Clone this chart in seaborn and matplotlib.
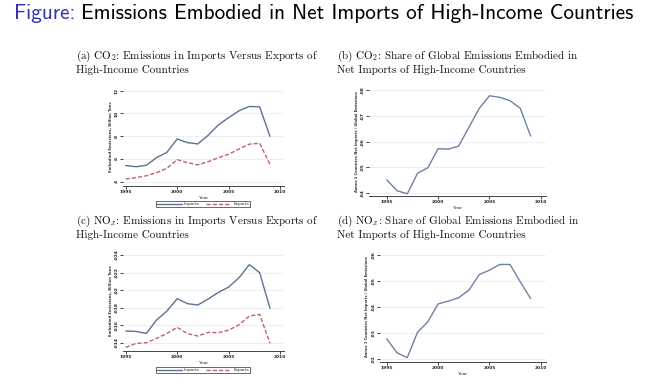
import matplotlib
matplotlib.use('Agg')
import matplotlib.pyplot as plt
import seaborn as sns
import pandas as pd

W, H = 646, 381

years = list(range(1995, 2010))

# (a) CO2 embodied emissions, billion tons
co2_imports = [5.42, 5.32, 5.44, 6.12, 6.58, 7.76, 7.44, 7.32, 8.08, 9.0, 9.64, 10.24, 10.62, 10.58, 7.98]
co2_exports = [4.24, 4.36, 4.52, 4.8, 5.18, 5.94, 5.68, 5.48, 5.76, 6.12, 6.42, 6.88, 7.3, 7.38, 5.52]
co2_ticks = [4, 6, 8, 10, 12]

# (b) CO2 share of global emissions in net imports
co2_share = [.0452, .0410, .0398, .0478, .0499, .0573, .0571, .0583, .0656, .0729, .0778, .0772, .0759, .0729, .0622]
co2_share_ticks = [.04, .05, .06, .07, .08]

# (c) NOx embodied emissions, billion tons
nox_imports = [.01533, .01529, .01506, .01659, .01761, .01902, .01845, .01830, .01898, .01974,
               .02035, .02141, .0229, .02198, .01792]
nox_exports = [.01347, .01392, .0140, .01449, .01506, .01575, .01503, .01476, .01518, .01514,
               .01544, .01605, .01704, .01723, .01392]
nox_ticks = [.014, .016, .018, .02, .022, .024]

# (d) NOx share of global emissions in net imports
nox_share = [.0278, .0224, .0205, .0303, .0343, .0412, .0423, .0436, .0465, .0525,
             .0542, .0564, .0564, .0497, .0433]
nox_share_ticks = [.02, .03, .04, .05, .06]

x_ticks = [1995, 2000, 2005, 2010]

captions = {
    'a': [r"(a) $\mathrm{CO}_2$: Emissions in Imports Versus Exports of", "High-Income Countries"],
    'b': [r"(b) $\mathrm{CO}_2$: Share of Global Emissions Embodied in", "Net Imports of High-Income Countries"],
    'c': [r"(c) $\mathrm{NO}_x$: Emissions in Imports Versus Exports of", "High-Income Countries"],
    'd': [r"(d) $\mathrm{NO}_x$: Share of Global Emissions Embodied in", "Net Imports of High-Income Countries"],
}

IMP_COLOR = '#5d7196'
EXP_COLOR = '#c0606e'
SHARE_COLOR = '#7081a6'

sns.set_style('white')
plt.rcParams['mathtext.fontset'] = 'cm'
plt.rcParams['font.family'] = ['DejaVu Sans']

fig = plt.figure(figsize=(W / 100, H / 100), dpi=100)
fig.patch.set_facecolor('white')


def px_axes(left, top, right, bottom):
    return fig.add_axes([left / W, 1 - bottom / H, (right - left) / W, (bottom - top) / H])


def style_axes(ax, yticks, ylabel, ylim, xlim, ylabel_size):
    ax.set_xlim(*xlim)
    ax.set_ylim(*ylim)
    ax.set_xticks(x_ticks)
    ax.set_yticks(yticks)
    ax.set_yticklabels([f"{t:g}".lstrip('0') if t < 1 else f"{t:g}" for t in yticks],
                       rotation=90, va='center')
    ax.set_xlabel('Year', fontsize=3.2, labelpad=1)
    ax.set_ylabel(ylabel, fontsize=ylabel_size, labelpad=1.5, fontweight='bold', color='#333333')
    ax.tick_params(axis='both', labelsize=3.2, length=2.2, width=0.6, pad=1, colors='#222222')
    ax.tick_params(axis='y', left=True)
    ax.tick_params(axis='x', bottom=True)
    for lab in ax.get_xticklabels() + ax.get_yticklabels():
        lab.set_fontweight('bold')
    for side in ['left', 'right', 'top']:
        ax.spines[side].set_visible(False)
    ax.spines['bottom'].set_linewidth(0.7)
    ax.spines['bottom'].set_color('#444444')
    ax.grid(axis='y', color='#e8ecef', linewidth=0.6)
    ax.set_axisbelow(True)


def pair_panel(ax, imports, exports, legend_center):
    df = pd.DataFrame({'Year': years * 2,
                       'Value': imports + exports,
                       'Series': ['Imports'] * len(years) + ['Exports'] * len(years)})
    sns.lineplot(data=df, x='Year', y='Value', hue='Series', style='Series',
                 palette={'Imports': IMP_COLOR, 'Exports': EXP_COLOR},
                 dashes={'Imports': '', 'Exports': (3, 1.5)},
                 linewidth=1.0, ax=ax, legend=True)
    leg = ax.legend(loc='center', bbox_to_anchor=(legend_center[0] / W, 1 - legend_center[1] / H),
                    bbox_transform=fig.transFigure, ncol=2, fontsize=3.0, frameon=True,
                    fancybox=False, handlelength=6, columnspacing=1.5, borderpad=0.3,
                    handletextpad=0.5)
    leg.get_frame().set_edgecolor('#222222')
    leg.get_frame().set_linewidth(0.6)


# (a)
ax_a = px_axes(123.3, 88, 284, 185.7)
pair_panel(ax_a, co2_imports, co2_exports, (203, 204))
style_axes(ax_a, co2_ticks, 'Embodied Emissions, Billion Tons', (3.65, 12.24), (1994.77, 2010.36), 2.7)

# (b)
ax_b = px_axes(369.3, 87, 546, 196)
sns.lineplot(x=years, y=co2_share, color=SHARE_COLOR, linewidth=1.0, ax=ax_b)
style_axes(ax_b, co2_share_ticks, 'Annex 1 Countries Net Imports / Global Emissions',
           (.03895, .0812), (1993.3, 2010.5), 2.6)

# (c)
ax_c = px_axes(123.3, 250, 284, 350.7)
pair_panel(ax_c, nox_imports, nox_exports, (203, 370))
style_axes(ax_c, nox_ticks, 'Embodied Emissions, Billion Tons', (.01309, .02457), (1994.77, 2010.36), 2.7)

# (d)
ax_d = px_axes(380, 252, 546, 361.7)
sns.lineplot(x=years, y=nox_share, color=SHARE_COLOR, linewidth=1.0, ax=ax_d)
style_axes(ax_d, nox_share_ticks, 'Annex 1 Countries Net Imports / Global Emissions',
           (.01896, .0612), (1994.35, 2010.5), 2.6)

# panel captions
cap_pos = {'a': (75.7, 56.7), 'b': (337.3, 56.7), 'c': (75.7, 221.7), 'd': (337.3, 221.7)}
for key, (x0, y0) in cap_pos.items():
    for i, line in enumerate(captions[key]):
        fig.text(x0 / W, 1 - (y0 + i * 13.3) / H, line, fontfamily='cmr10', fontsize=8.0,
                 ha='left', va='center', color='#111111')

# slide title
t1 = fig.text(14 / W, 1 - 19 / H, 'Figure:', fontfamily='cmss10', fontsize=15.3,
              color='#3333b3', ha='left', va='baseline')
fig.canvas.draw()
bb = t1.get_window_extent(renderer=fig.canvas.get_renderer())
fig.text((bb.x1 + 6) / W, 1 - 19 / H, 'Emissions Embodied in Net Imports of High-Income Countries',
         fontfamily='cmss10', fontsize=15.3, color='black', ha='left', va='baseline')

fig.savefig('out.png', dpi=100)
